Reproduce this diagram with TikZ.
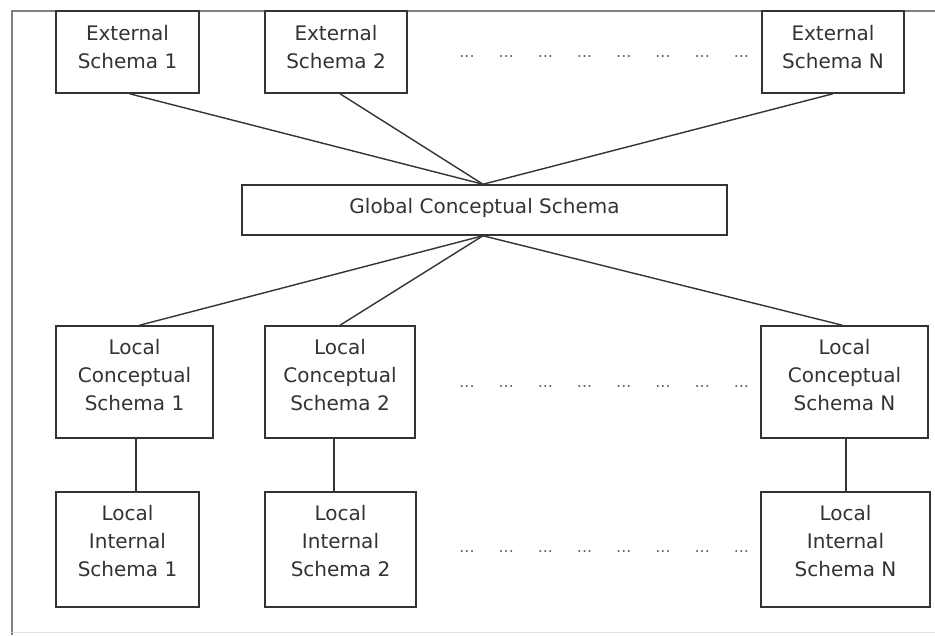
\documentclass[tikz,border=0pt]{standalone}
\usepackage{fontspec}
\setmainfont{DejaVu Sans}
\begin{document}
\begin{tikzpicture}[x=1pt,y=-1pt,
  schemabox/.style={draw=black!80, line width=1.5pt, fill=white, inner sep=0pt,
    minimum width=#1},
  schemabox/.default=143pt,
  boxtext/.style={font=\fontsize{20}{28}\selectfont, text=black!80, align=center, inner sep=0pt},
  link/.style={draw=black!80, line width=1.4pt},
  gap/.style={font=\fontsize{16}{18}\selectfont, text=black!60, inner sep=0pt, anchor=base},
  frameline/.style={draw=black!50, line width=1.5pt}]
\useasboundingbox (0,0) rectangle (935,635);

% outer frame
\draw[frameline] (12,635) -- (12,11) -- (935,11);
\draw[draw=black!12, line width=1pt] (12,632) -- (935,632);

% external level
\node[schemabox, minimum height=82pt] (es1) at (127.5,52) {};
\node[schemabox=142pt, minimum height=82pt] (es2) at (336,52) {};
\node[schemabox=142pt, minimum height=82pt] (esn) at (833,52) {};
\node[boxtext] (es1t) at ([yshift=5pt]es1.center) {External\\Schema 1};
\node[boxtext] (es2t) at ([yshift=5pt]es2.center) {External\\Schema 2};
\node[boxtext] (esnt) at ([yshift=5pt]esn.center) {External\\Schema N};

% global conceptual level
\node[schemabox=485pt, minimum height=50pt] (gcs) at (484.5,210) {};
\node[boxtext] (gcst) at ([yshift=2pt]gcs.center) {Global Conceptual Schema};

% local conceptual level
\node[schemabox=157pt, minimum height=112pt] (lc1) at (134.5,382) {};
\node[schemabox=150pt, minimum height=112pt] (lc2) at (340,382) {};
\node[schemabox=167pt, minimum height=112pt] (lcn) at (844.5,382) {};
\node[boxtext] (lc1t) at ([yshift=7pt]lc1.center) {Local\\Conceptual\\Schema 1};
\node[boxtext] (lc2t) at ([yshift=7pt]lc2.center) {Local\\Conceptual\\Schema 2};
\node[boxtext] (lcnt) at ([yshift=7pt]lcn.center) {Local\\Conceptual\\Schema N};

% local internal level
\node[schemabox=143pt, minimum height=115pt] (li1) at (127.5,549.5) {};
\node[schemabox=151pt, minimum height=115pt] (li2) at (340.5,549.5) {};
\node[schemabox=169pt, minimum height=115pt] (lin) at (845.5,549.5) {};
\node[boxtext] (li1t) at ([yshift=8.5pt]li1.center) {Local\\Internal\\Schema 1};
\node[boxtext] (li2t) at ([yshift=8.5pt]li2.center) {Local\\Internal\\Schema 2};
\node[boxtext] (lint) at ([yshift=8.5pt]lin.center) {Local\\Internal\\Schema N};

% ellipses between the second and the last schema of each row
\foreach \i in {0,...,7} {
  \node[gap] (dtop\i) at (467+39.2*\i,57) {...};
  \node[gap] (dmid\i) at (467+39.2*\i,387) {...};
  \node[gap] (dbot\i) at (467+39.2*\i,552) {...};
}

% connectors
\draw[link] ([xshift=2pt]es1.south) -- ([xshift=-1.5pt]gcs.north);
\draw[link] ([xshift=4pt]es2.south) -- ([xshift=-1.5pt]gcs.north);
\draw[link] (esn.south) -- ([xshift=-1.5pt]gcs.north);
\draw[link] ([xshift=-1.5pt]gcs.south) -- ([xshift=5pt]lc1.north);
\draw[link] ([xshift=-1.5pt]gcs.south) -- (lc2.north);
\draw[link] ([xshift=-1.5pt]gcs.south) -- ([xshift=-2pt]lcn.north);
\draw[link] ([xshift=1.5pt]lc1.south) -- ([xshift=1.5pt]lc1.south |- li1.north);
\draw[link] ([xshift=-6pt]lc2.south) -- ([xshift=-6pt]lc2.south |- li2.north);
\draw[link] ([xshift=1.5pt]lcn.south) -- ([xshift=1.5pt]lcn.south |- lin.north);
\end{tikzpicture}
\end{document}
